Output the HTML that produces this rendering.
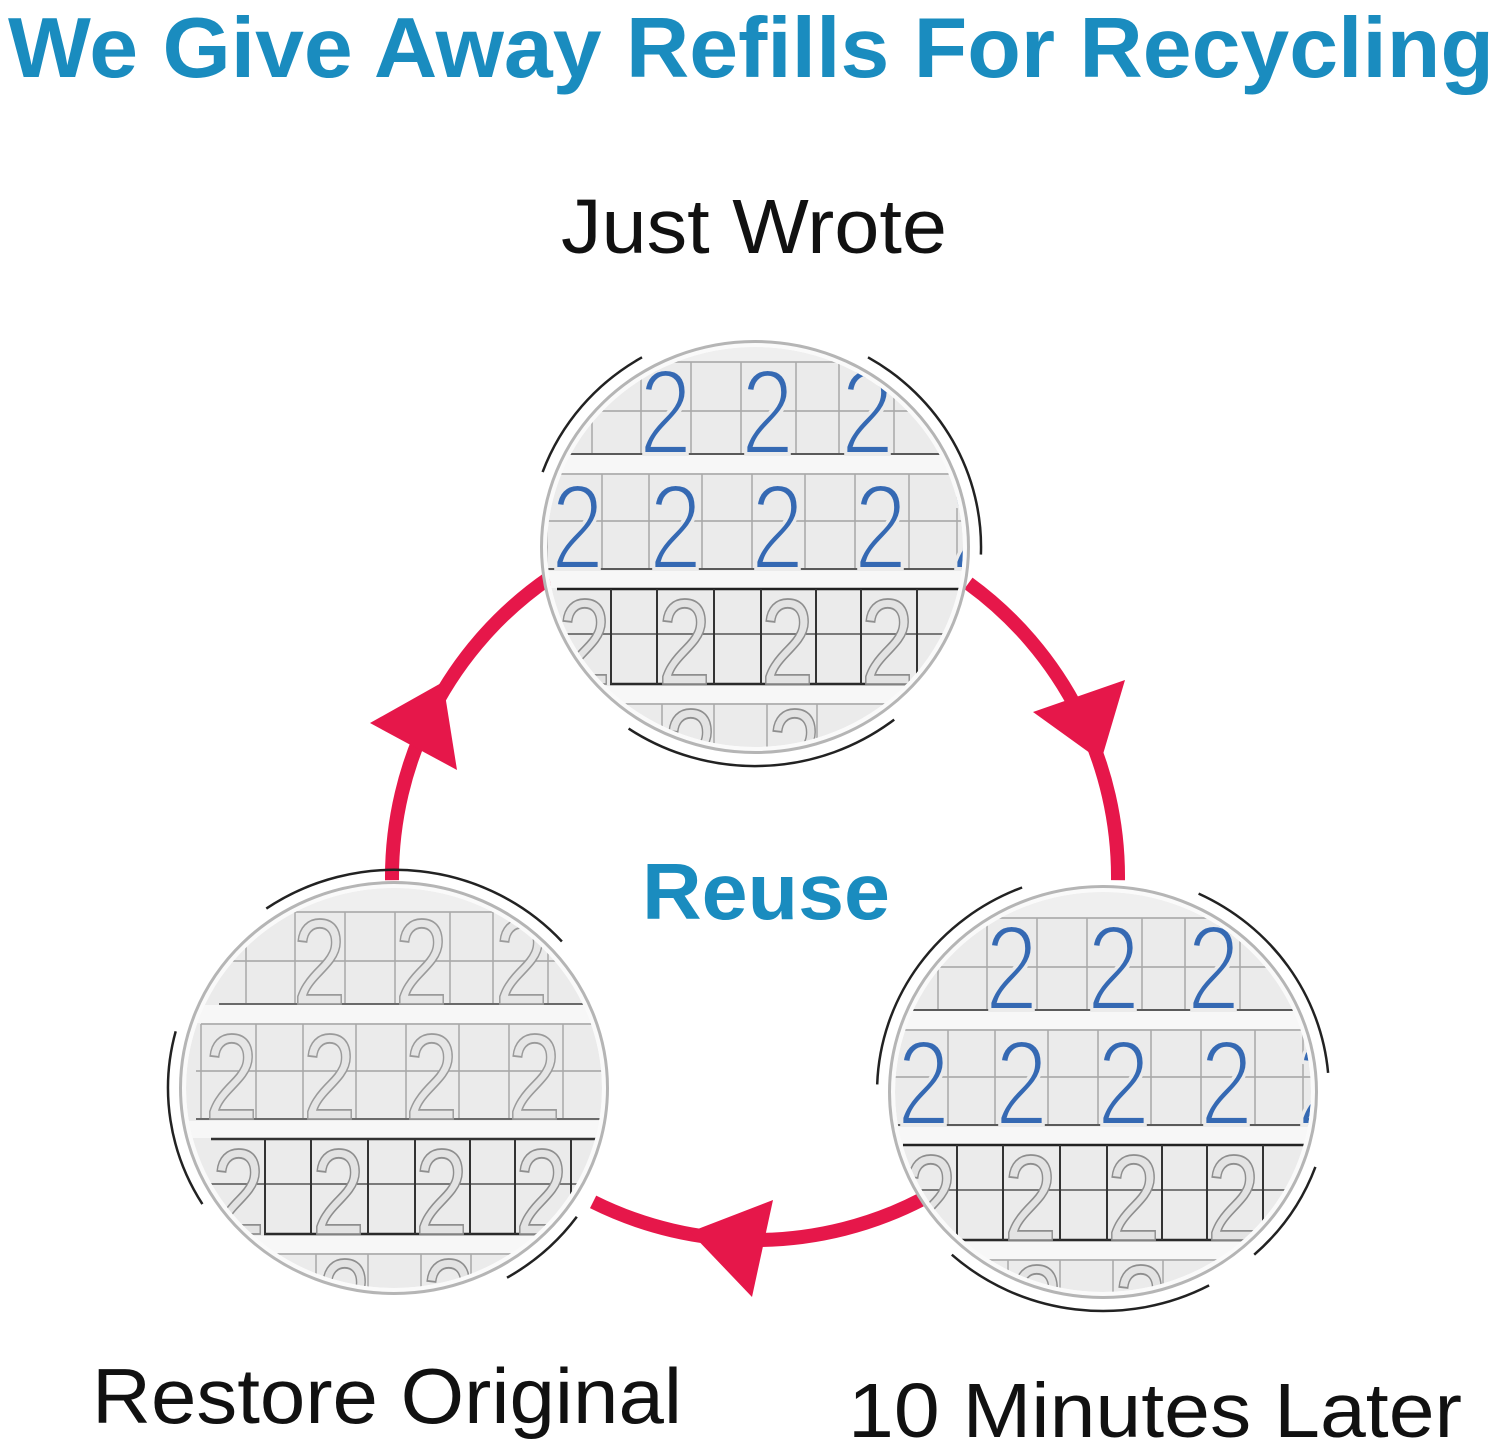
<!DOCTYPE html>
<html>
<head>
<meta charset="utf-8">
<style>
html,body{margin:0;padding:0;background:#fff;}
body{width:1500px;height:1450px;overflow:hidden;}
svg{display:block;}
.d{font-family:"Liberation Sans",Arial,sans-serif;font-size:122px;}
.b{fill:#3569b3;stroke:#ebebeb;stroke-width:4;}
.h{fill:#e3e3e3;stroke:#8e8e8e;stroke-width:1.8;}
.hl{fill:#e6e6e6;stroke:#9a9a9a;stroke-width:1.8;}
</style>
</head>
<body>
<svg width="1500" height="1450" viewBox="0 0 1500 1450" xmlns="http://www.w3.org/2000/svg">
<defs>
<clipPath id="cT"><ellipse cx="755" cy="547" rx="208" ry="200"/></clipPath>
<clipPath id="cL"><ellipse cx="394" cy="1088" rx="208" ry="200"/></clipPath>
<clipPath id="cR"><ellipse cx="1103" cy="1092" rx="208" ry="200"/></clipPath>
</defs>
<rect width="1500" height="1450" fill="#fff"/>

<!-- Title -->
<text x="8" y="77" font-family="Liberation Sans, Arial, sans-serif" font-weight="bold" font-size="85" fill="#1a8cbf" textLength="1486" lengthAdjust="spacingAndGlyphs">We Give Away Refills For Recycling</text>

<text x="561" y="253" font-family="Liberation Sans, Arial, sans-serif" font-size="77" fill="#111" textLength="386" lengthAdjust="spacingAndGlyphs">Just Wrote</text>
<text x="642" y="919" font-family="Liberation Sans, Arial, sans-serif" font-weight="bold" font-size="80" fill="#1a8cbf" textLength="248" lengthAdjust="spacingAndGlyphs">Reuse</text>
<text x="92" y="1423" font-family="Liberation Sans, Arial, sans-serif" font-size="78" fill="#111" textLength="590" lengthAdjust="spacingAndGlyphs">Restore Original</text>
<text x="848" y="1437" font-family="Liberation Sans, Arial, sans-serif" font-size="77" fill="#111" textLength="614" lengthAdjust="spacingAndGlyphs">10 Minutes Later</text>

<!-- Red cycle arcs -->
<g fill="none" stroke="#e6174a" stroke-width="14">
<path d="M968.4,583.3 A363,363 0 0 1 1118,880.2"/>
<path d="M922.6,1199 A363,363 0 0 1 593.1,1201.9"/>
<path d="M392,880.2 A363,363 0 0 1 549.5,577.8"/>
</g>
<g fill="#e6174a">
<polygon points="370,723 457,770 443,682"/>
<polygon points="1033,712 1125,680 1101,761"/>
<polygon points="773,1200 752,1297 690,1232"/>
</g>

<!-- TOP CIRCLE -->
<g clip-path="url(#cT)">
<g transform="translate(757,537)">
<rect x="-260" y="-260" width="520" height="520" fill="#ebebeb"/>
<rect x="-260" y="-260" width="520" height="85" fill="#efefef"/>
<rect x="-260" y="-82" width="520" height="18" fill="#f7f7f7"/>
<rect x="-260" y="34" width="520" height="17" fill="#f7f7f7"/>
<rect x="-260" y="149" width="520" height="17" fill="#f7f7f7"/>
<path d="M-170,-175H200M-200,-126H205M-210,-63H215M-215,-16H215M-200,167H200" stroke="#a3a3a3" stroke-width="1.5" fill="none"/>
<path d="M-165,-175V-83M-116,-175V-83M-66,-175V-83M-16,-175V-83M39,-175V-83M82,-175V-83M137,-175V-83M190,-175V-83M-210,-63V32M-155,-63V32M-108,-63V32M-55,-63V32M-5,-63V32M48,-63V32M98,-63V32M152,-63V32M200,-63V32M-95,167V260M-43,167V260M10,167V260M60,167V260" stroke="#a8a8a8" stroke-width="1.5"/>
<path d="M-192,-83H205M-215,32H215" stroke="#5a5a5a" stroke-width="2"/>
<path d="M-200,52H215" stroke="#222" stroke-width="2.5"/>
<path d="M-200,97H215" stroke="#555" stroke-width="1.6"/>
<path d="M-147,147H160" stroke="#2a2a2a" stroke-width="2.5"/>
<path d="M-146,52V147M-100,52V147M-43,52V147M4,52V147M59,52V147M104,52V147M160,52V147M205,52V147" stroke="#333" stroke-width="2"/>
<g class="d">
<text class="b" x="-118" y="-83" textLength="53" lengthAdjust="spacingAndGlyphs">2</text>
<text class="b" x="-16" y="-83" textLength="53" lengthAdjust="spacingAndGlyphs">2</text>
<text class="b" x="84" y="-83" textLength="53" lengthAdjust="spacingAndGlyphs">2</text>
<text class="b" x="-206" y="32" textLength="53" lengthAdjust="spacingAndGlyphs">2</text>
<text class="b" x="-108" y="32" textLength="53" lengthAdjust="spacingAndGlyphs">2</text>
<text class="b" x="-6" y="32" textLength="53" lengthAdjust="spacingAndGlyphs">2</text>
<text class="b" x="97" y="32" textLength="53" lengthAdjust="spacingAndGlyphs">2</text>
<text class="b" x="194" y="32" textLength="53" lengthAdjust="spacingAndGlyphs">2</text>
<text class="h" x="-199" y="147" textLength="53" lengthAdjust="spacingAndGlyphs">2</text>
<text class="h" x="-99" y="147" textLength="53" lengthAdjust="spacingAndGlyphs">2</text>
<text class="h" x="4" y="147" textLength="53" lengthAdjust="spacingAndGlyphs">2</text>
<text class="h" x="104" y="147" textLength="53" lengthAdjust="spacingAndGlyphs">2</text>
<text class="h" x="-93" y="257" textLength="53" lengthAdjust="spacingAndGlyphs">2</text>
<text class="h" x="11" y="257" textLength="53" lengthAdjust="spacingAndGlyphs">2</text>
</g>
</g>
</g>
<ellipse cx="755" cy="547" rx="210.5" ry="202.5" fill="none" stroke="#fafafa" stroke-width="5"/>
<ellipse cx="755" cy="547" rx="213.5" ry="205.5" fill="none" stroke="#b5b5b5" stroke-width="3"/>
<g fill="none" stroke="#222" stroke-width="2.5">
<path d="M542.6,472.1 A226,219 0 0 1 642,357.3"/>
<path d="M868,357.3 A226,219 0 0 1 980.9,554.6"/>
<path d="M894.2,719.6 A226,219 0 0 1 628.6,728.6"/>
</g>

<!-- LEFT CIRCLE -->
<g clip-path="url(#cL)">
<g transform="translate(411,1087)">
<rect x="-260" y="-260" width="520" height="520" fill="#ebebeb"/>
<rect x="-260" y="-260" width="520" height="85" fill="#efefef"/>
<rect x="-260" y="-82" width="520" height="18" fill="#f7f7f7"/>
<rect x="-260" y="34" width="520" height="17" fill="#f7f7f7"/>
<rect x="-260" y="149" width="520" height="17" fill="#f7f7f7"/>
<path d="M-170,-175H200M-200,-126H205M-210,-63H215M-215,-16H215M-200,167H200" stroke="#a3a3a3" stroke-width="1.5" fill="none"/>
<path d="M-165,-175V-83M-116,-175V-83M-66,-175V-83M-16,-175V-83M39,-175V-83M82,-175V-83M137,-175V-83M190,-175V-83M-210,-63V32M-155,-63V32M-108,-63V32M-55,-63V32M-5,-63V32M48,-63V32M98,-63V32M152,-63V32M200,-63V32M-95,167V260M-43,167V260M10,167V260M60,167V260" stroke="#a8a8a8" stroke-width="1.5"/>
<path d="M-192,-83H205M-215,32H215" stroke="#6a6a6a" stroke-width="2"/>
<path d="M-200,52H215" stroke="#333" stroke-width="2.5"/>
<path d="M-200,97H215" stroke="#555" stroke-width="1.6"/>
<path d="M-147,147H160" stroke="#2a2a2a" stroke-width="2.5"/>
<path d="M-146,52V147M-100,52V147M-43,52V147M4,52V147M59,52V147M104,52V147M160,52V147M205,52V147" stroke="#333" stroke-width="2"/>
<g class="d">
<text class="hl" x="-118" y="-83" textLength="53" lengthAdjust="spacingAndGlyphs">2</text>
<text class="hl" x="-16" y="-83" textLength="53" lengthAdjust="spacingAndGlyphs">2</text>
<text class="hl" x="84" y="-83" textLength="53" lengthAdjust="spacingAndGlyphs">2</text>
<text class="hl" x="-206" y="32" textLength="53" lengthAdjust="spacingAndGlyphs">2</text>
<text class="hl" x="-108" y="32" textLength="53" lengthAdjust="spacingAndGlyphs">2</text>
<text class="hl" x="-6" y="32" textLength="53" lengthAdjust="spacingAndGlyphs">2</text>
<text class="hl" x="97" y="32" textLength="53" lengthAdjust="spacingAndGlyphs">2</text>
<text class="hl" x="194" y="32" textLength="53" lengthAdjust="spacingAndGlyphs">2</text>
<text class="h" x="-199" y="147" textLength="53" lengthAdjust="spacingAndGlyphs">2</text>
<text class="h" x="-99" y="147" textLength="53" lengthAdjust="spacingAndGlyphs">2</text>
<text class="h" x="4" y="147" textLength="53" lengthAdjust="spacingAndGlyphs">2</text>
<text class="h" x="104" y="147" textLength="53" lengthAdjust="spacingAndGlyphs">2</text>
<text class="h" x="-93" y="257" textLength="53" lengthAdjust="spacingAndGlyphs">2</text>
<text class="h" x="11" y="257" textLength="53" lengthAdjust="spacingAndGlyphs">2</text>
</g>
</g>
</g>
<ellipse cx="394" cy="1088" rx="210.5" ry="202.5" fill="none" stroke="#fafafa" stroke-width="5"/>
<ellipse cx="394" cy="1088" rx="213.5" ry="205.5" fill="none" stroke="#b5b5b5" stroke-width="3"/>
<g fill="none" stroke="#222" stroke-width="2.5">
<path d="M266.3,908.6 A226,219 0 0 1 561.9,941.5"/>
<path d="M202.4,1204.1 A226,219 0 0 1 175.7,1031.3"/>
<path d="M576.8,1216.8 A226,219 0 0 1 507,1277.7"/>
</g>

<!-- RIGHT CIRCLE -->
<g clip-path="url(#cR)">
<g transform="translate(1103,1093)">
<rect x="-260" y="-260" width="520" height="520" fill="#ebebeb"/>
<rect x="-260" y="-260" width="520" height="85" fill="#efefef"/>
<rect x="-260" y="-82" width="520" height="18" fill="#f7f7f7"/>
<rect x="-260" y="34" width="520" height="17" fill="#f7f7f7"/>
<rect x="-260" y="149" width="520" height="17" fill="#f7f7f7"/>
<path d="M-170,-175H200M-200,-126H205M-210,-63H215M-215,-16H215M-200,167H200" stroke="#a3a3a3" stroke-width="1.5" fill="none"/>
<path d="M-165,-175V-83M-116,-175V-83M-66,-175V-83M-16,-175V-83M39,-175V-83M82,-175V-83M137,-175V-83M190,-175V-83M-210,-63V32M-155,-63V32M-108,-63V32M-55,-63V32M-5,-63V32M48,-63V32M98,-63V32M152,-63V32M200,-63V32M-95,167V260M-43,167V260M10,167V260M60,167V260" stroke="#a8a8a8" stroke-width="1.5"/>
<path d="M-192,-83H205M-215,32H215" stroke="#5a5a5a" stroke-width="2"/>
<path d="M-200,52H215" stroke="#222" stroke-width="2.5"/>
<path d="M-200,97H215" stroke="#555" stroke-width="1.6"/>
<path d="M-147,147H160" stroke="#2a2a2a" stroke-width="2.5"/>
<path d="M-146,52V147M-100,52V147M-43,52V147M4,52V147M59,52V147M104,52V147M160,52V147M205,52V147" stroke="#333" stroke-width="2"/>
<g class="d">
<text class="b" x="-118" y="-83" textLength="53" lengthAdjust="spacingAndGlyphs">2</text>
<text class="b" x="-16" y="-83" textLength="53" lengthAdjust="spacingAndGlyphs">2</text>
<text class="b" x="84" y="-83" textLength="53" lengthAdjust="spacingAndGlyphs">2</text>
<text class="b" x="-206" y="32" textLength="53" lengthAdjust="spacingAndGlyphs">2</text>
<text class="b" x="-108" y="32" textLength="53" lengthAdjust="spacingAndGlyphs">2</text>
<text class="b" x="-6" y="32" textLength="53" lengthAdjust="spacingAndGlyphs">2</text>
<text class="b" x="97" y="32" textLength="53" lengthAdjust="spacingAndGlyphs">2</text>
<text class="b" x="194" y="32" textLength="53" lengthAdjust="spacingAndGlyphs">2</text>
<text class="h" x="-199" y="147" textLength="53" lengthAdjust="spacingAndGlyphs">2</text>
<text class="h" x="-99" y="147" textLength="53" lengthAdjust="spacingAndGlyphs">2</text>
<text class="h" x="4" y="147" textLength="53" lengthAdjust="spacingAndGlyphs">2</text>
<text class="h" x="104" y="147" textLength="53" lengthAdjust="spacingAndGlyphs">2</text>
<text class="h" x="-93" y="257" textLength="53" lengthAdjust="spacingAndGlyphs">2</text>
<text class="h" x="11" y="257" textLength="53" lengthAdjust="spacingAndGlyphs">2</text>
</g>
</g>
</g>
<ellipse cx="1103" cy="1092" rx="210.5" ry="202.5" fill="none" stroke="#fafafa" stroke-width="5"/>
<ellipse cx="1103" cy="1092" rx="213.5" ry="205.5" fill="none" stroke="#b5b5b5" stroke-width="3"/>
<g fill="none" stroke="#222" stroke-width="2.5">
<path d="M877.2,1084.4 A226,219 0 0 1 1022.1,887.5"/>
<path d="M1198.6,893.6 A226,219 0 0 1 1328.1,1072.9"/>
<path d="M1315.4,1166.9 A226,219 0 0 1 1254.2,1254.7"/>
<path d="M1209.1,1285.4 A226,219 0 0 1 951.8,1254.7"/>
</g>
</svg>
</body>
</html>
